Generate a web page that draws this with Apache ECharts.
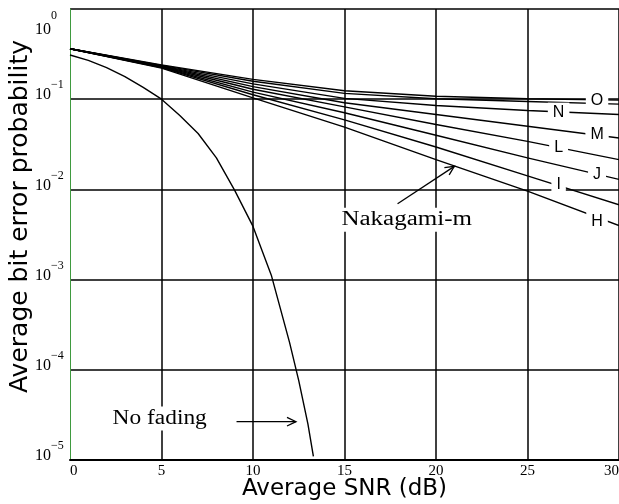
<!DOCTYPE html>
<html>
<head>
<meta charset="utf-8">
<title>Average bit error probability</title>
<script src="https://cdn.jsdelivr.net/npm/echarts@6/dist/echarts.min.js"></script>
<style>
html,body{margin:0;padding:0;background:#fff;}
#main{width:619px;height:504px;}
</style>
</head>
<body>
<div id="main"></div>
<script>
// snr points (dB)
var snrNak = [0, 5, 10, 15, 20, 25, 30];
var snrAwgn = [0, 1, 2, 3, 4, 5, 6, 7, 8, 9, 10, 11, 12, 12.5, 13, 13.3];
// nakagami-m curves, labels on the right
var curveO  = [0.363, 0.240, 0.166, 0.124, 0.108, 0.101, 0.0977];
var curveO2 = [0.363, 0.237, 0.158, 0.116, 0.101, 0.0944, 0.0881];
var curveN  = [0.363, 0.234, 0.148, 0.102, 0.0851, 0.0750, 0.0676];
var curveM  = [0.363, 0.232, 0.138, 0.0912, 0.0676, 0.0501, 0.0372];
var curveL  = [0.363, 0.229, 0.129, 0.0822, 0.0525, 0.0341, 0.0214];
var curveJ  = [0.363, 0.226, 0.120, 0.0708, 0.0398, 0.0224, 0.0129];
var curveI  = [0.363, 0.224, 0.112, 0.0589, 0.0295, 0.0141, 0.00676];
var curveH  = [0.363, 0.221, 0.1035, 0.0490, 0.0214, 0.00955, 0.00398];
// no fading
var noFading = [0.309, 0.269, 0.224, 0.178, 0.135, 0.100, 0.0661, 0.0417, 0.0224, 0.00977,
                0.00389, 0.00112, 0.000200, 0.0000759, 0.0000251, 0.0000110];
var xTicks = [0, 5, 10, 15, 20, 25, 30];

var chart = echarts.init(document.getElementById('main'));

function pairs(xs, ys){
    var out = [];
    for(var i=0;i<xs.length;i++) out.push([xs[i], ys[i]]);
    return out;
}
function lineSeries(name, xs, ys){
    return {
        name: name, type: 'line', data: pairs(xs, ys),
        showSymbol: false, smooth: false, silent: true,
        lineStyle: {color: '#000', width: 1.4}
    };
}

var serif = '"Liberation Serif", "DejaVu Serif", serif';
var sans = '"DejaVu Sans", sans-serif';

chart.setOption({
    animation: false,
    backgroundColor: '#fff',
    grid: {left: 70, right: 0, top: 9, bottom: 44, outerBoundsMode: 'none', containLabel: false},
    xAxis: {
        type: 'value', min: 0, max: 30, interval: 5,
        name: 'Average SNR (dB)', nameLocation: 'middle', nameGap: 18, nameMoveOverlap: false,
        nameTextStyle: {fontFamily: sans, fontSize: 23, color: '#000'},
        axisLine: {lineStyle: {color: '#000', width: 2}},
        axisTick: {show: false},
        axisLabel: {
            color: '#000', fontFamily: serif, fontSize: 15, margin: 4,
            alignMinLabel: 'left', alignMaxLabel: 'right',
            formatter: function(v){ return xTicks.indexOf(v) >= 0 ? String(v) : ''; }
        },
        splitLine: {show: true, showMinLine: false, lineStyle: {color: '#000', width: 1.5}}
    },
    yAxis: {
        type: 'log', logBase: 10, min: 1e-5, max: 1,
        name: 'Average bit error probability', nameLocation: 'middle', nameGap: 37, nameMoveOverlap: false,
        nameTextStyle: {fontFamily: sans, fontSize: 25, color: '#000', padding: [0, 0, 0, 36]},
        axisLine: {show: true, lineStyle: {color: '#3f9a3f', width: 1}},
        axisTick: {show: false},
        axisLabel: {
            color: '#000', align: 'left', margin: 35,
            formatter: function(v){
                var e = Math.round(Math.log(v) / Math.LN10);
                if(e === 0) return '{b0|10}{e0|0}';
                return '{b|10}{e|\u2212' + (-e) + '}';
            },
            rich: {
                b:  {fontFamily: serif, fontSize: 16, color: '#000', padding: [8, 0, 16, 0]},
                e:  {fontFamily: serif, fontSize: 12, color: '#000', padding: [0, 0, 28, 0]},
                b0: {fontFamily: serif, fontSize: 16, color: '#000', padding: [42, 0, 0, 0]},
                e0: {fontFamily: serif, fontSize: 12, color: '#000', padding: [29.5, 0, 16.5, 0]}
            }
        },
        splitLine: {show: true, lineStyle: {color: '#000', width: 1.5}}
    },
    series: [
        lineSeries('O', snrNak, curveO),
        lineSeries('O2', snrNak, curveO2),
        lineSeries('N', snrNak, curveN),
        lineSeries('M', snrNak, curveM),
        lineSeries('L', snrNak, curveL),
        lineSeries('J', snrNak, curveJ),
        lineSeries('I', snrNak, curveI),
        lineSeries('H', snrNak, curveH),
        lineSeries('No fading', snrAwgn, noFading)
    ]
});

// annotations, placed in data coords
function px(x, y){ return chart.convertToPixel({gridIndex: 0}, [x, y]); }

function label(text, at, font, scaleX){
    var p = px(at[0], at[1]);
    return {
        type: 'text', x: p[0], y: p[1], z: 100, scaleX: scaleX || 1, silent: true,
        style: {
            text: text, font: font, fill: '#000',
            align: 'center', verticalAlign: 'middle',
            textAlign: 'center', textVerticalAlign: 'middle',
            backgroundColor: '#fff', padding: [2, 5]
        }
    };
}
function arrow(from, to){
    var a = px(from[0], from[1]), b = px(to[0], to[1]);
    var ang = Math.atan2(b[1] - a[1], b[0] - a[0]);
    var len = 10, spread = 0.45;
    var h1 = [b[0] - len * Math.cos(ang - spread), b[1] - len * Math.sin(ang - spread)];
    var h2 = [b[0] - len * Math.cos(ang + spread), b[1] - len * Math.sin(ang + spread)];
    return [
        {type: 'line', z: 101, silent: true, shape: {x1: a[0], y1: a[1], x2: b[0], y2: b[1]},
         style: {stroke: '#000', lineWidth: 1.3}},
        {type: 'polyline', z: 101, silent: true, shape: {points: [h1, b, h2]},
         style: {stroke: '#000', lineWidth: 1.3, fill: null}}
    ];
}

var lblFont = '16px "Liberation Sans", Arial, sans-serif';
var annFont = '20px ' + serif;
var graphics = [
    label('Nakagami-m', [18.4, 0.0046], annFont, 1.25),
    label('No fading', [4.9, 0.0000288], annFont, 1.17),
    label('O', [28.8, 0.0973], lblFont),
    label('N', [26.7, 0.0710], lblFont),
    label('M', [28.8, 0.0405], lblFont),
    label('L', [26.7, 0.0290], lblFont),
    label('J', [28.8, 0.0146], lblFont),
    label('I', [26.7, 0.0113], lblFont),
    label('H', [28.8, 0.00439], lblFont)
];
graphics = graphics.concat(arrow([17.9, 0.00694], [21.0, 0.0180]));
graphics = graphics.concat(arrow([9.1, 0.0000266], [12.35, 0.0000266]));

chart.setOption({graphic: graphics});
</script>
</body>
</html>
